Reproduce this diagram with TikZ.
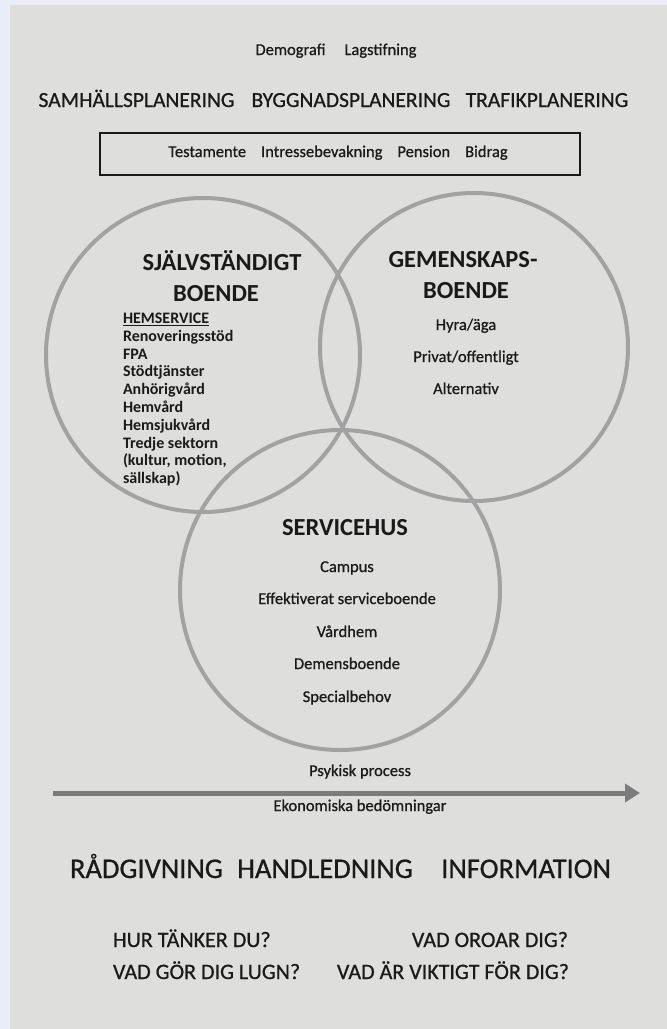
\documentclass[tikz,border=0pt]{standalone}
\usepackage{fontspec}
\setmainfont{Carlito}
\newfontfamily\medfont[FakeBold=0.7]{Carlito}
\usetikzlibrary{arrows.meta}
\definecolor{bluebg}{HTML}{E8EDF7}
\definecolor{paper}{HTML}{DEDEDC}
\definecolor{ring}{HTML}{A2A2A2}
\definecolor{ink}{HTML}{1A1A1A}
\definecolor{arrowgray}{HTML}{7C7C7C}
\begin{document}
\begin{tikzpicture}[x=1pt,y=-1pt,
  txt/.style={inner sep=0pt, outer sep=0pt, anchor=base, text=ink},
  small/.style={txt, font=\medfont\fontsize{16.5}{20}\selectfont},
  big/.style={txt, font=\medfont\fontsize{21.5}{26}\selectfont},
  hdr/.style={txt, font=\bfseries\fontsize{24.5}{28}\selectfont},
  lst/.style={txt, anchor=base west, font=\bfseries\fontsize{16}{18}\selectfont},
  item/.style={txt, font=\medfont\fontsize{16.5}{20}\selectfont},
  huge/.style={txt, font=\medfont\fontsize{28.5}{32}\selectfont},
  quest/.style={txt, font=\medfont\fontsize{22}{26}\selectfont},
  ringnode/.style={circle, draw=ring, line width=4pt, inner sep=0pt, outer sep=0pt},
  framebox/.style={draw=ink, line width=1.8pt, minimum width=480pt, minimum height=42pt, inner sep=0pt}
]
\useasboundingbox (0,0) rectangle (667,1029);
\fill[bluebg] (0,0) rectangle (667,1029);
\fill[paper] (10,5) rectangle (667,1029);

% top texts
\node[small] (demo) at (336,55) {Demografi\hspace{19pt}Lagstifning};
\node[big] (samh) at (136.5,107) {SAMHÄLLSPLANERING};
\node[big] (bygg) at (351,107) {BYGGNADSPLANERING};
\node[big] (traf) at (547,107) {TRAFIKPLANERING};
\node[framebox] (box) at (340,154) {};
\node[small] (boxtxt) at (338,157)
  {Testamente\hspace{15pt}Intressebevakning\hspace{15pt}Pension\hspace{15pt}Bidrag};

% circles
\node[ringnode, minimum size=314pt] (cL) at (203,355) {};
\node[ringnode, minimum size=308pt] (cR) at (474,347) {};
\node[ringnode, minimum size=320pt] (cS) at (340,590) {};

% left circle
\node[hdr] (sj) at (222,270) {SJÄLVSTÄNDIGT};
\node[hdr] (sjb) at (216,301) {BOENDE};
\foreach \t [count=\i] in {\underline{HEMSERVICE},Renoveringsstöd,FPA,Stödtjänster,Anhörigvård,Hemvård,Hemsjukvård,Tredje sektorn,{(kultur, motion,},sällskap)}
  \node[lst] (l\i) at (123,{323.5+17.8*(\i-1)}) {\t};

% right circle
\node[hdr] (ge) at (463,267) {GEMENSKAPS-};
\node[hdr] (geb) at (466,298) {BOENDE};
\node[item] (r1) at (466,330) {Hyra/äga};
\node[item] (r2) at (466,362) {Privat/offentligt};
\node[item] (r3) at (466,394) {Alternativ};

% service circle
\node[hdr] (se) at (345,535) {SERVICEHUS};
\node[item] (s1) at (347,572) {Campus};
\node[item] (s2) at (347,604) {Effektiverat serviceboende};
\node[item] (s3) at (347,637) {Vårdhem};
\node[item] (s4) at (347,669) {Demensboende};
\node[item] (s5) at (347,702) {Specialbehov};

% arrow
\coordinate (arrS) at (53,793);
\coordinate (arrE) at (640,793);
\draw[arrowgray, line width=5pt, -{Triangle[length=15pt,width=18pt]}] (arrS) -- (arrE);
\node[small] (psy) at (360,776) {Psykisk process};
\node[small] (eko) at (360,811) {Ekonomiska bedömningar};

% bottom
\node[huge, anchor=base west] (rad) at (70,878) {RÅDGIVNING};
\node[huge] (han) at (325,878) {HANDLEDNING};
\node[huge, anchor=base east] (inf) at (611,878) {INFORMATION};
\node[quest, anchor=base west] (q1) at (113,947) {HUR TÄNKER DU?};
\node[quest, anchor=base east] (q2) at (568,947) {VAD OROAR DIG?};
\node[quest, anchor=base west] (q3) at (113,979) {VAD GÖR DIG LUGN?};
\node[quest, anchor=base east] (q4) at (569,979) {VAD ÄR VIKTIGT FÖR DIG?};
\end{tikzpicture}
\end{document}
